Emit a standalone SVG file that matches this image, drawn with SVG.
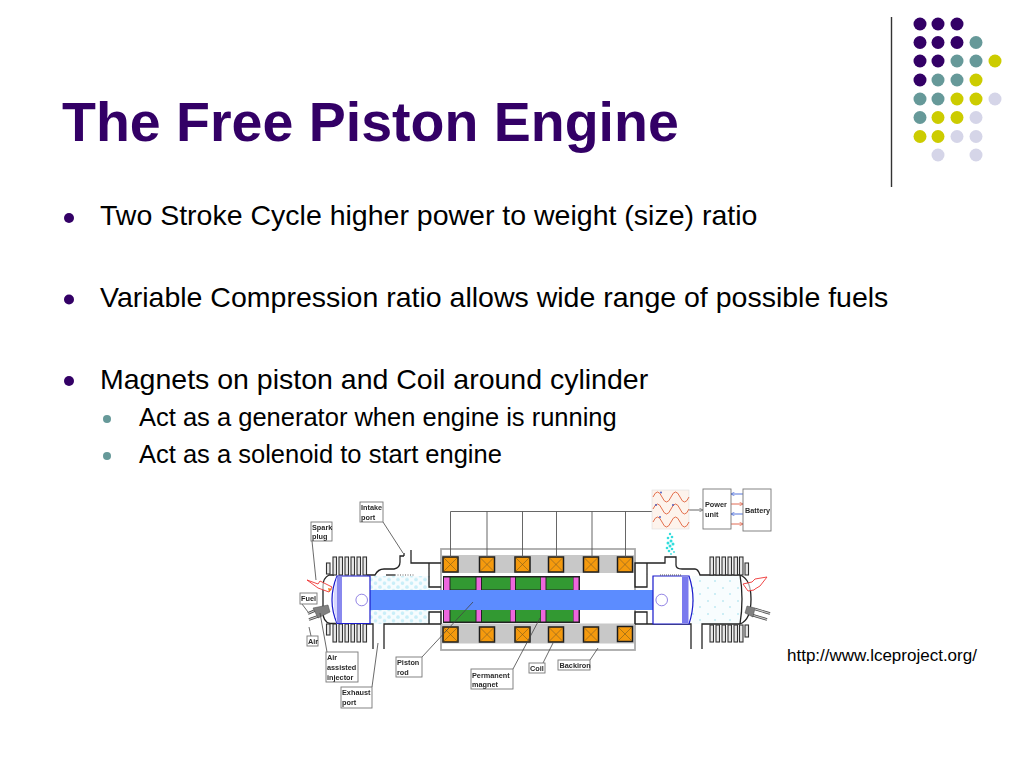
<svg xmlns="http://www.w3.org/2000/svg" width="1024" height="768" viewBox="0 0 1024 768">
<style>
text{font-family:"Liberation Sans",Arial,sans-serif}
.title{font-size:55.500px;font-weight:bold;fill:#330066}
.b1{font-size:28.500px;fill:#000}
.b2{font-size:25.500px;fill:#000}
.lb{font-size:7.300px;font-weight:bold;fill:#2a2a2a}
.box{fill:#fff;stroke:#777;stroke-width:.9}
.wall{fill:none;stroke:#222;stroke-width:1.300}
.fin{fill:#e8e8e8;stroke:#333;stroke-width:1.100}
.lead{fill:none;stroke:#444;stroke-width:.8}
.wire{fill:none;stroke:#555;stroke-width:.9}
.p{fill:#330066}.t{fill:#669999}.y{fill:#cccc00}.l{fill:#d5d5e8}
.pist{fill:#fff;stroke:#1a1acc;stroke-width:1.200}
.mag{fill:#ee66dd;stroke:none}.grn{fill:#339933;stroke:none}
.spark{fill:#fff;stroke:#ee3333;stroke-width:.9}
.noz{stroke:#444;stroke-width:2.600}
.noz2{stroke:#ccc;stroke-width:1.200}
.injb{fill:#808080;stroke:#444;stroke-width:.5}
</style>
<defs>
<filter id="soft" x="-2%" y="-2%" width="104%" height="104%"><feGaussianBlur stdDeviation=".3"/></filter>
<g id="coil"><rect x="-7.500" y="-7.500" width="15" height="15" fill="#f59a10" stroke="#1c1c1c" stroke-width="1.500"/><path d="M-7-7L7 7M7-7L-7 7" stroke="#7a5a20" stroke-width=".6"/></g>
<path id="wave" d="M653 0Q657.500-10 662 0T671 0T680 0T689 0" fill="none" stroke="#e0603a" stroke-width=".9"/>
<pattern id="gas" width="9" height="7.500" patternUnits="userSpaceOnUse"><rect width="9" height="7.500" fill="#f6fcfe"/><circle cx="2" cy="2" r="1.800" fill="#c8eef8"/><circle cx="6.500" cy="5.700" r="1.800" fill="#c8eef8"/></pattern>
<pattern id="gas2" width="15" height="13" patternUnits="userSpaceOnUse"><rect width="15" height="13" fill="#f8fdfe"/><circle cx="3" cy="3" r="1" fill="#bfeaf2"/><circle cx="10" cy="9" r="1" fill="#bfeaf2"/></pattern>
<marker id="ag" markerWidth="5" markerHeight="5" refX="4.500" refY="2.500" orient="auto"><path d="M0 0L4.500 2.500L0 5" fill="none" stroke="#666" stroke-width=".7"/></marker>
<marker id="ar" markerWidth="5" markerHeight="5" refX="4.500" refY="2.500" orient="auto"><path d="M0 0L4.500 2.500L0 5" fill="none" stroke="#d9482b" stroke-width=".7"/></marker>
<marker id="ab" markerWidth="5" markerHeight="5" refX="4.500" refY="2.500" orient="auto"><path d="M0 0L4.500 2.500L0 5" fill="none" stroke="#2a4fd0" stroke-width=".7"/></marker>
</defs>
<rect width="1024" height="768" fill="#fff"/>
<g id="decor">
<path d="M891.500 17V187" stroke="#333" stroke-width="1.400"/>
<g id="dots">
<circle class="p" cx="920" cy="24" r="6.500"/><circle class="p" cx="938" cy="24" r="6.500"/><circle class="p" cx="957" cy="24" r="6.500"/>
<circle class="p" cx="920" cy="42.500" r="6.500"/><circle class="p" cx="938" cy="42.500" r="6.500"/><circle class="p" cx="957" cy="42.500" r="6.500"/><circle class="t" cx="976" cy="42.500" r="6.500"/>
<circle class="p" cx="920" cy="61" r="6.500"/><circle class="p" cx="938" cy="61" r="6.500"/><circle class="t" cx="957" cy="61" r="6.500"/><circle class="t" cx="976" cy="61" r="6.500"/><circle class="y" cx="995" cy="61" r="6.500"/>
<circle class="p" cx="920" cy="80" r="6.500"/><circle class="t" cx="938" cy="80" r="6.500"/><circle class="t" cx="957" cy="80" r="6.500"/><circle class="y" cx="976" cy="80" r="6.500"/>
<circle class="t" cx="920" cy="99" r="6.500"/><circle class="t" cx="938" cy="99" r="6.500"/><circle class="y" cx="957" cy="99" r="6.500"/><circle class="y" cx="976" cy="99" r="6.500"/><circle class="l" cx="995" cy="99" r="6.500"/>
<circle class="t" cx="920" cy="117.500" r="6.500"/><circle class="y" cx="938" cy="117.500" r="6.500"/><circle class="y" cx="957" cy="117.500" r="6.500"/><circle class="l" cx="976" cy="117.500" r="6.500"/>
<circle class="y" cx="920" cy="136.500" r="6.500"/><circle class="y" cx="938" cy="136.500" r="6.500"/><circle class="l" cx="957" cy="136.500" r="6.500"/><circle class="l" cx="976" cy="136.500" r="6.500"/>
<circle class="l" cx="938" cy="155" r="6.500"/><circle class="l" cx="976" cy="155" r="6.500"/>
</g>
</g>
<text class="title" x="62" y="141">The Free Piston Engine</text>
<g id="bullets">
<circle class="p" cx="69" cy="218" r="5"/><text class="b1" x="100" y="225">Two Stroke Cycle higher power to weight (size) ratio</text>
<circle class="p" cx="69" cy="299.500" r="5"/><text class="b1" x="100" y="307">Variable Compression ratio allows wide range of possible fuels</text>
<circle class="p" cx="69" cy="381" r="5"/><text class="b1" x="100" y="389">Magnets on piston and Coil around cylinder</text>
<circle class="t" cx="107" cy="419" r="4"/><text class="b2" x="139" y="426">Act as a generator when engine is running</text>
<circle class="t" cx="107" cy="456" r="4"/><text class="b2" x="139" y="463">Act as a solenoid to start engine</text>
</g>
<g id="diagram" filter="url(#soft)">
<g id="engine">
<g id="gas-charge">
<rect x="370" y="576" width="60" height="14" fill="url(#gas)"/><rect x="370" y="610" width="60" height="14" fill="url(#gas)"/>
<rect x="692" y="576" width="48" height="48" fill="url(#gas2)"/>
</g>
<g id="stator">
<rect x="441" y="549" width="194" height="101" fill="#fff" stroke="#aaa" stroke-width="1.800"/>
<rect x="442" y="555" width="192" height="18" fill="#c8c8c8"/><rect x="442" y="623.500" width="192" height="20" fill="#c8c8c8"/>
<use href="#coil" transform="translate(450.500 564.500)"/><use href="#coil" transform="translate(487 564.500)"/><use href="#coil" transform="translate(522.500 564.500)"/><use href="#coil" transform="translate(556 564.500)"/><use href="#coil" transform="translate(591 564.500)"/><use href="#coil" transform="translate(625 564.500)"/>
<use href="#coil" transform="translate(450.500 634.500)"/><use href="#coil" transform="translate(487 634.500)"/><use href="#coil" transform="translate(522.500 634.500)"/><use href="#coil" transform="translate(556 634.500)"/><use href="#coil" transform="translate(591 634.500)"/><use href="#coil" transform="translate(625 634)"/>
</g>
<g id="magnets">
<rect x="443" y="576" width="137" height="47" fill="#222"/>
<rect class="grn" x="450.500" y="577.500" width="25" height="12"/><rect class="grn" x="482" y="577.500" width="28" height="12"/><rect class="grn" x="516" y="577.500" width="24.500" height="12"/><rect class="grn" x="546.500" y="577.500" width="26.500" height="12"/>
<rect class="grn" x="450.500" y="609" width="25" height="12.500"/><rect class="grn" x="482" y="609" width="28" height="12.500"/><rect class="grn" x="516" y="609" width="24.500" height="12.500"/><rect class="grn" x="546.500" y="609" width="26.500" height="12.500"/>
<rect class="mag" x="444" y="577.500" width="5.500" height="44"/><rect class="mag" x="476.500" y="577.500" width="4.500" height="44"/><rect class="mag" x="510.500" y="577.500" width="4.500" height="44"/><rect class="mag" x="541" y="577.500" width="4.500" height="44"/><rect class="mag" x="573.500" y="577.500" width="5" height="44"/>
</g>
<g id="walls">
<path class="wall" d="M367 575H375Q378 569 384 569H394Q400 568 400 562V556H404M404 556V553M411 550V563H441M429 563V587H441"/>
<path class="wall" d="M429 624V612H441V624M373 649V624H367M384 649V624H441"/>
<path class="wall" d="M386 575H395"/><path d="M395 575H415" stroke="#333" stroke-width=".8" stroke-dasharray="1 1.500"/>
<path class="wall" d="M647 563H635V587H647ZM635 624V612H647V624M635 563H665V557H676V565Q676 569 682 569H695Q698 569 700 575H740"/>
<path class="wall" d="M635 624H691V649M702 649V624H740"/>
<path class="wall" d="M334 575H329Q323 578 323 586V612Q323 622 330 623.500H336"/>
<path class="wall" d="M740 575Q751 579 751 599Q751 620 740 624M740 575Q744 599 740 624"/>
</g>
<g id="fins">
<rect class="fin" x="333" y="557" width="3.500" height="18"/><rect class="fin" x="339" y="557" width="3.500" height="18"/><rect class="fin" x="345" y="557" width="3.500" height="18"/><rect class="fin" x="351" y="557" width="3.500" height="18"/><rect class="fin" x="357" y="557" width="3.500" height="18"/><rect class="fin" x="363" y="557" width="3.500" height="18"/><rect class="fin" x="326.500" y="563" width="3.500" height="11"/>
<rect class="fin" x="333" y="624" width="3.500" height="18"/><rect class="fin" x="339" y="624" width="3.500" height="18"/><rect class="fin" x="345" y="624" width="3.500" height="18"/><rect class="fin" x="351" y="624" width="3.500" height="18"/><rect class="fin" x="357" y="624" width="3.500" height="18"/><rect class="fin" x="363" y="624" width="3.500" height="18"/><rect class="fin" x="326.500" y="624" width="3.500" height="11"/>
<rect class="fin" x="710" y="557" width="3.500" height="18"/><rect class="fin" x="716" y="557" width="3.500" height="18"/><rect class="fin" x="722" y="557" width="3.500" height="18"/><rect class="fin" x="728" y="557" width="3.500" height="18"/><rect class="fin" x="734" y="557" width="3.500" height="18"/><rect class="fin" x="739.500" y="557" width="3.500" height="18"/><rect class="fin" x="745" y="563" width="3.500" height="12"/>
<rect class="fin" x="710" y="625" width="3.500" height="17"/><rect class="fin" x="716" y="625" width="3.500" height="17"/><rect class="fin" x="722" y="625" width="3.500" height="17"/><rect class="fin" x="728" y="625" width="3.500" height="17"/><rect class="fin" x="734" y="625" width="3.500" height="17"/><rect class="fin" x="739.500" y="625" width="3.500" height="17"/><rect class="fin" x="745" y="625" width="3.500" height="12"/>
</g>
<rect id="piston-rod" x="370" y="590" width="285" height="20" fill="#5b8cff"/>
<g id="piston-left">
<path class="pist" d="M337 576H370V623.500H337Q327 600 337 576Z"/>
<path d="M337 576.500V623Q330 600 337 576.500Z" fill="#d8d8ff" stroke="none"/>
<rect x="337" y="577" width="5" height="46" fill="#8888ee"/>
<circle cx="361.700" cy="600" r="5.800" fill="#fff" stroke="#7766dd" stroke-width=".8"/>
</g>
<g id="piston-right">
<path class="pist" d="M653 576H689Q697 600 689 624H653Z"/>
<rect x="682" y="577" width="6.500" height="46" fill="#7a7aee"/>
<path d="M660 575H682" stroke="#333" stroke-width=".8" stroke-dasharray="1 1"/>
<circle cx="661.700" cy="600" r="5.800" fill="#fff" stroke="#7766dd" stroke-width=".8"/>
</g>
<g id="spark-left"><path class="spark" d="M307 580L318 584L320 581L332 587L329 592L318 588Z" fill-opacity=".6"/><path d="M328 588l4 1-3 3z" fill="#f08020"/></g>
<g id="spark-right"><path class="spark" d="M743 584L752 582L755 579L767 577L760 586L755 589L754 590L748 591Z" fill-opacity=".6"/></g>
<g id="injector-left"><path class="noz" d="M316 610L308 613.500M319 616L309 619.500"/><path class="noz2" d="M316 610L308 613.500M319 616L309 619.500"/><path class="injb" d="M313 608L328 605L330 612L318 618Z"/></g>
<g id="injector-right"><path class="noz" d="M755 609L770 613.500M752 615L767 619.500"/><path class="noz2" d="M755 609L770 613.500M752 615L767 619.500"/><path class="injb" d="M747 606L755 608L753 617L745 613Z"/></g>
<g id="plume" fill="#33dddd">
<circle cx="670" cy="534" r="1.200"/><circle cx="672" cy="537" r="1.300"/><circle cx="668" cy="538" r="1.300"/><circle cx="671" cy="541" r="1.500"/><circle cx="668" cy="543" r="1.500"/><circle cx="673" cy="544" r="1.500"/><circle cx="670" cy="546" r="1.500"/><circle cx="667" cy="548" r="1.300"/><circle cx="672" cy="549" r="1.300"/><circle cx="669" cy="551" r="1.300"/><circle cx="674" cy="552" r=".9"/><circle cx="671" cy="554" r=".9"/>
</g>
</g>
<g id="connectors">
<path class="wire" d="M450.500 557V511.500H652M487 511.500V557M522.500 511.500V557M556.500 511.500V557M592 511.500V557M625.500 511.500V557"/>
<path class="wire" d="M689 510H703" marker-end="url(#ag)"/>
<path d="M743 494H731" stroke="#2a4fd0" stroke-width=".8" marker-end="url(#ab)"/>
<path d="M731 504H743" stroke="#d9482b" stroke-width=".8" marker-end="url(#ar)"/>
<path d="M743 514H731" stroke="#2a4fd0" stroke-width=".8" marker-end="url(#ab)"/>
<path d="M731 524H743" stroke="#d9482b" stroke-width=".8" marker-end="url(#ar)"/>
<path class="lead" d="M383 522L403 553M312 541L316 580M302 604L308 612M311 636L309 627M327 652L320 613M372 687L378 643M422 657L473 602M513 669L540 618M543 663L553 643M590 660L598 648"/>
</g>
<g id="wave-box">
<rect x="652" y="490" width="37" height="39" fill="#fdf3ec" stroke="#ddd" stroke-width=".6"/>
<use href="#wave" y="497"/><use href="#wave" y="509"/><use href="#wave" y="522"/>
<circle cx="661" cy="492.500" r=".9" fill="#4455bb"/><circle cx="656" cy="505" r=".9" fill="#4455bb"/><circle cx="673" cy="505" r=".9" fill="#4455bb"/><circle cx="660" cy="517" r=".9" fill="#4455bb"/>
</g>
<g id="power-unit"><rect class="box" x="703" y="489" width="28" height="40"/><text class="lb" x="705" y="507">Power</text><text class="lb" x="705" y="517">unit</text></g>
<g id="battery"><rect class="box" x="743" y="489" width="28" height="42"/><text class="lb" x="745" y="513">Battery</text></g>
<g id="label-intake"><rect class="box" x="360" y="502" width="23" height="20"/><text class="lb" x="361" y="509.500">Intake</text><text class="lb" x="361" y="519.500">port</text></g>
<g id="label-spark"><rect class="box" x="311" y="522" width="21" height="19"/><text class="lb" x="312" y="529.500">Spark</text><text class="lb" x="312" y="539">plug</text></g>
<g id="label-fuel"><rect class="box" x="300" y="593" width="17" height="11"/><text class="lb" x="301" y="601">Fuel</text></g>
<g id="label-air"><rect class="box" x="307" y="636" width="11" height="10"/><text class="lb" x="308" y="643.500">Air</text></g>
<g id="label-injector"><rect class="box" x="326" y="652" width="32" height="30"/><text class="lb" x="327" y="659.500">Air</text><text class="lb" x="327" y="669.500">assisted</text><text class="lb" x="327" y="679.500">injector</text></g>
<g id="label-exhaust"><rect class="box" x="341" y="687" width="31" height="21"/><text class="lb" x="342" y="695">Exhaust</text><text class="lb" x="342" y="705">port</text></g>
<g id="label-rod"><rect class="box" x="396" y="657" width="26" height="20"/><text class="lb" x="397" y="665">Piston</text><text class="lb" x="397" y="675">rod</text></g>
<g id="label-magnet"><rect class="box" x="471" y="669" width="42" height="20"/><text class="lb" x="472" y="677.500">Permanent</text><text class="lb" x="472" y="687">magnet</text></g>
<g id="label-coil"><rect class="box" x="529" y="663" width="16" height="10"/><text class="lb" x="530" y="670.500">Coil</text></g>
<g id="label-backiron"><rect class="box" x="558" y="660" width="32" height="10"/><text class="lb" x="559.500" y="667.500">Backiron</text></g>
</g>
<text x="787" y="661" font-size="17" fill="#000">http://www.lceproject.org/</text>
</svg>
